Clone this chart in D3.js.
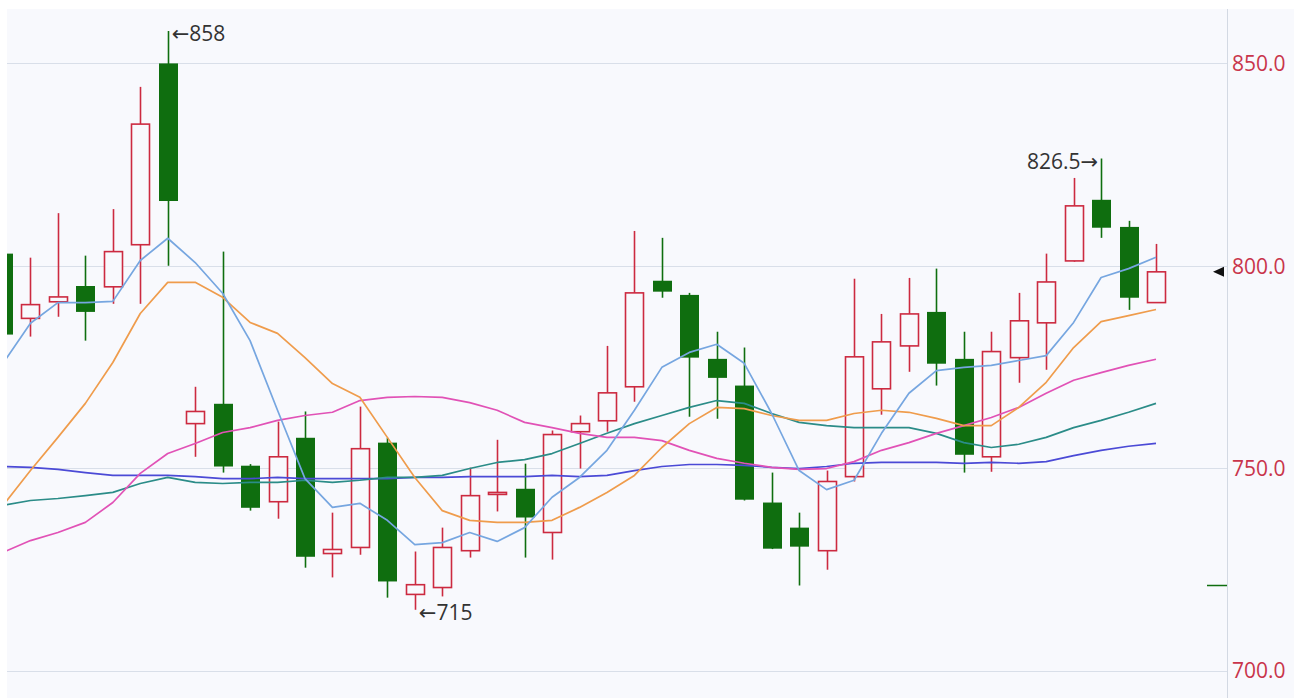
<!DOCTYPE html>
<html>
<head>
<meta charset="utf-8">
<script src="https://cdn.jsdelivr.net/npm/d3@7"></script>
<style>
  html, body { margin: 0; padding: 0; background: #ffffff; }
  svg { display: block; }
</style>
</head>
<body>
<svg id="chart" width="1294" height="698"></svg>
<script>
// ---- data ----
const open  = [803, 787, 791.1, 795, 794.8, 805.2, 850, 761, 765.9, 750.6, 741.7, 757.5, 728.9, 730.4, 756.3, 718.8, 720.5, 729.6, 743.5, 744.9, 734.1, 759, 761.7, 770.1, 796.3, 792.8, 777, 770.4, 741.5, 735.3, 729.6, 747.9, 769.6, 780.2, 788.6, 777, 752.8, 777.3, 785.9, 801.2, 816.3, 809.6, 790.9];
const high  = [804, 802, 813, 802.5, 814, 844.2, 858, 770.1, 803.5, 751, 761.5, 764, 739, 765.2, 757.5, 729.4, 735.3, 750.1, 757, 751.1, 759.3, 763, 780.2, 808.6, 806.9, 793.3, 783.7, 779.8, 748.9, 739, 749.4, 796.8, 788.1, 797, 799.3, 783.7, 783.7, 793.3, 803, 821.7, 826.5, 811.1, 805.4];
const low   = [782, 782.5, 787.4, 781.5, 790.6, 790.6, 800, 752.8, 748.9, 739.5, 737.5, 725.4, 723, 728.6, 718, 715, 718.3, 727.9, 739.3, 727.9, 727.4, 749.9, 759, 766.4, 792.1, 762.7, 762.2, 742, 730, 721, 724.9, 746.7, 763.2, 773.8, 770.4, 748.9, 749.1, 771.1, 774.3, 801, 806.9, 789.1, 790.9];
const close = [783, 790.4, 792.3, 788.6, 803.5, 835, 816, 764, 750.4, 740.2, 752.8, 728.1, 729.9, 754.8, 722, 721.2, 730.4, 743.2, 744, 737.8, 758.3, 761, 768.6, 793.3, 793.6, 777.3, 772.3, 742.2, 730.1, 730.6, 746.7, 777.5, 781.2, 788.1, 775.8, 753.3, 778.8, 786.4, 796, 814.8, 809.4, 792.1, 798.5];

const ma5  = [775.9, 785.8, 790.9, 790.9, 791.2, 801.3, 806.8, 800.8, 793.2, 781.5, 764.3, 747.4, 740.3, 741.3, 737.1, 731.1, 731.6, 734.1, 731.9, 735.3, 742.8, 747.7, 754.4, 764.3, 774.9, 778.6, 780.6, 775.9, 763.5, 749.4, 744.7, 747.0, 758.6, 768.5, 774.1, 774.9, 775.4, 776.6, 777.8, 786.0, 797.1, 799.3, 802.1];
const ma10 = [740.8, 749.4, 757.6, 766.0, 776.1, 788.2, 795.9, 795.9, 792.2, 786.0, 783.3, 777.3, 770.9, 767.5, 757.6, 747.7, 739.5, 737.1, 736.6, 736.6, 737.1, 740.3, 744.0, 748.2, 755.1, 761.0, 765.0, 764.7, 763.0, 761.8, 761.8, 763.5, 764.3, 763.8, 762.3, 760.5, 760.5, 765.0, 771.2, 779.8, 786.2, 787.7, 789.2];
const ma20 = [729.2, 732.1, 734.1, 736.6, 741.5, 748.7, 753.6, 756.1, 758.8, 760.0, 761.8, 763.0, 763.8, 766.7, 767.5, 767.7, 767.5, 766.2, 764.3, 761.3, 760.0, 758.6, 757.6, 757.6, 756.8, 754.4, 752.4, 751.2, 750.2, 749.7, 749.9, 751.6, 754.4, 756.3, 758.6, 760.5, 762.5, 765.0, 768.5, 771.7, 773.6, 775.4, 776.9];
const ma30 = [740.8, 742.0, 742.5, 743.2, 744.0, 746.2, 747.7, 746.5, 746.2, 746.5, 746.5, 747.0, 746.5, 747.0, 747.7, 747.7, 748.2, 749.9, 751.4, 752.1, 753.6, 756.1, 758.6, 761.0, 763.0, 765.0, 766.7, 766.0, 763.5, 761.3, 760.5, 760.0, 760.0, 760.0, 758.6, 756.3, 755.1, 755.9, 757.6, 760.0, 761.8, 763.8, 766.0];
const ma60 = [750.4, 750.2, 749.7, 748.9, 748.2, 748.2, 748.2, 747.9, 747.4, 747.4, 747.7, 747.4, 747.4, 747.4, 747.4, 747.7, 747.7, 747.9, 747.9, 747.9, 748.2, 747.9, 748.2, 749.4, 750.4, 750.9, 750.9, 750.7, 750.2, 749.9, 750.4, 751.2, 751.4, 751.4, 751.4, 751.2, 751.4, 751.2, 751.6, 753.1, 754.4, 755.4, 756.1];

const yTicks = [700, 750, 800, 850];
const maxMark = {index: 6, value: 858, label: "858", side: "right"};
const minMark = {index: 15, value: 715, label: "715", side: "right"};
const peakMark = {index: 40, value: 826.5, label: "826.5", side: "left"};
const greenAxisMark = 721;

// ---- layout ----
const W = 1294, H = 698;
const plotL = 7, plotT = 9, plotR = 1227, plotB = 698;
const BG = "#f8f9fd";
const RED = "#cc2a40";
const GREEN = "#0f6e0f";

const svg = d3.select("#chart");
svg.append("rect").attr("x", plotL).attr("y", plotT).attr("width", W - plotL).attr("height", plotB - plotT).attr("fill", BG);

const x = d3.scaleLinear().domain([0, close.length - 1]).range([3, 1156]);
const y = d3.scaleLinear().domain([700, 850]).range([670.5, 63.4]);

svg.append("defs").append("clipPath").attr("id", "clip")
  .append("rect").attr("x", plotL).attr("y", plotT).attr("width", plotR - plotL).attr("height", plotB - plotT);

// grid
svg.append("g").selectAll("line").data(yTicks).join("line")
  .attr("x1", plotL).attr("x2", plotR)
  .attr("y1", d => Math.round(y(d)) + 0.5).attr("y2", d => Math.round(y(d)) + 0.5)
  .attr("stroke", "#d9dfe9").attr("stroke-width", 1);

// axis line
svg.append("line").attr("x1", plotR + 0.5).attr("x2", plotR + 0.5).attr("y1", plotT).attr("y2", plotB)
  .attr("stroke", "#d3d9e3").attr("stroke-width", 1);

// right axis
const axis = d3.axisRight(y).tickValues(yTicks).tickSize(0).tickPadding(0).tickFormat(d3.format(".1f"));
const gAxis = svg.append("g").attr("transform", `translate(${plotR + 5},0)`).call(axis);
gAxis.select(".domain").remove();
gAxis.selectAll("text")
  .attr("fill", "#c9354b")
  .attr("font-family", "'Open Sans', 'Noto Sans', sans-serif")
  .attr("font-size", 21)
  .attr("dy", "0.35em");

const plot = svg.append("g").attr("clip-path", "url(#clip)");

const data = close.map((c, i) => ({i, o: open[i], h: high[i], l: low[i], c}));
const bw = 19;

const candles = plot.append("g").selectAll("g").data(data).join("g");
candles.each(function(d) {
  const g = d3.select(this);
  const cx = Math.round(x(d.i)) + 0.5;
  const up = d.c >= d.o;
  const top = y(Math.max(d.o, d.c)), bot = y(Math.min(d.o, d.c));
  const col = up ? RED : GREEN;
  if (up) {
    g.append("line").attr("x1", cx).attr("x2", cx).attr("y1", y(d.h)).attr("y2", top)
      .attr("stroke", col).attr("stroke-width", 1.6);
    g.append("line").attr("x1", cx).attr("x2", cx).attr("y1", bot).attr("y2", y(d.l))
      .attr("stroke", col).attr("stroke-width", 1.6);
    g.append("rect").attr("x", cx - bw / 2 + 0.5).attr("y", top).attr("width", bw - 1).attr("height", Math.max(1, bot - top))
      .attr("fill", BG).attr("stroke", col).attr("stroke-width", 1.6);
  } else {
    g.append("line").attr("x1", cx).attr("x2", cx).attr("y1", y(d.h)).attr("y2", y(d.l))
      .attr("stroke", col).attr("stroke-width", 1.6);
    g.append("rect").attr("x", cx - bw / 2).attr("y", top).attr("width", bw).attr("height", Math.max(1, bot - top))
      .attr("fill", col);
  }
});

// moving averages
const maSeries = [
  {values: ma60, color: "#4b4ad6"},
  {values: ma30, color: "#2b8c88"},
  {values: ma20, color: "#e152b6"},
  {values: ma10, color: "#ef9c4c"},
  {values: ma5,  color: "#76a6e0"}
];
const line = d3.line().x((d, i) => x(i)).y(d => y(d)).curve(d3.curveLinear);
plot.append("g").selectAll("path").data(maSeries).join("path")
  .attr("d", d => line(d.values))
  .attr("fill", "none")
  .attr("stroke", d => d.color)
  .attr("stroke-width", 1.7)
  .attr("stroke-linejoin", "round");

// extreme labels
function mark(m) {
  const t = svg.append("text")
    .attr("y", y(m.value) + 3)
    .attr("dy", "0.35em")
    .attr("fill", "#333333")
    .attr("font-family", "'Open Sans', 'DejaVu Sans', sans-serif")
    .attr("font-size", 21);
  if (m.side === "right") {
    t.attr("x", x(m.index) + 4).attr("text-anchor", "start").text("\u2190" + m.label);
  } else {
    t.attr("x", x(m.index) - 3).attr("text-anchor", "end").text(m.label + "\u2192");
  }
}
[maxMark, minMark, peakMark].forEach(mark);

// last close marker (triangle) on the axis
const lastY = y(close[close.length - 1]);
svg.append("path")
  .attr("d", `M${plotR - 14},${lastY} L${plotR - 3},${lastY - 5} L${plotR - 3},${lastY + 5} Z`)
  .attr("fill", "#111111");

// green mark on axis
svg.append("line")
  .attr("x1", plotR - 20).attr("x2", plotR)
  .attr("y1", y(greenAxisMark)).attr("y2", y(greenAxisMark))
  .attr("stroke", GREEN).attr("stroke-width", 1.5);
</script>
</body>
</html>
